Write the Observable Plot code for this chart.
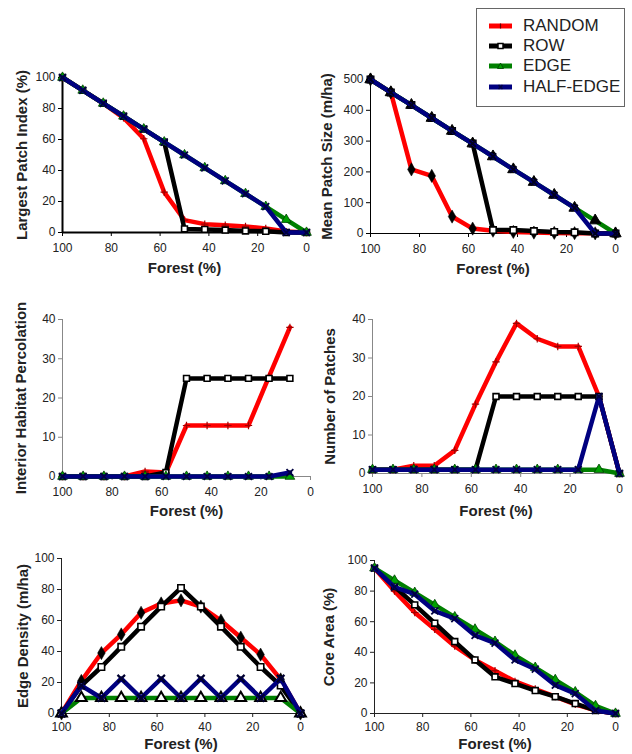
<!DOCTYPE html>
<html>
<head>
<meta charset="utf-8">
<script src="https://cdn.jsdelivr.net/npm/d3@7"></script>
<script src="https://cdn.jsdelivr.net/npm/@observablehq/plot@0.6"></script>
<style>
  html, body { margin: 0; padding: 0; background: white; }
  body { width: 632px; height: 754px; position: relative; overflow: hidden; font-family: "Liberation Sans", Arial, sans-serif; }
  .panel { position: absolute; }
  #legend { position: absolute; left: 476px; top: 8px; width: 147px; height: 97px; border: 1px solid #666; background: white; z-index: 10; }
  .lg-row { position: absolute; left: 0; height: 20px; width: 147px; }
  .lg-row svg { position: absolute; left: 12px; top: 5px; }
  .lg-row span { position: absolute; left: 46px; top: 0px; font-size: 17px; color: #222; line-height: 20px; }
</style>
</head>
<body>
<div id="legend"></div>
<script>
// ---- data ----
const forest = [100, 91.7, 83.3, 75, 66.7, 58.3, 50, 41.7, 33.3, 25, 16.7, 8.3, 0];
const seriesNames = ["RANDOM", "ROW", "EDGE", "HALF-EDGE"];
const seriesColors = ["#ff0000", "#000000", "#008000", "#000080"];
const xTicks = [100, 80, 60, 40, 20, 0];

// Largest Patch Index (%)
const lpiRandom = [100, 91.7, 83.3, 74, 60.5, 26, 8, 5.4, 4.7, 3.9, 2.6, 0.6, 0];
const lpiRow    = [100, 91.7, 83.3, 75, 66.7, 58.3, 2.3, 2, 1.6, 1, 0.8, 0, 0];
const lpiEdge   = [100, 91.7, 83.3, 75, 66.7, 58.3, 50, 41.7, 33.3, 25, 16.7, 8.3, 0];
const lpiHalf   = [100, 91.7, 83.3, 75, 66.7, 58.3, 50, 41.7, 33.3, 25, 16.7, 0, 0];

// Mean Patch Size (m/ha)
const mpsRandom = [500, 458, 208, 187, 55, 16, 9, 5, 3, 2, 1, 0.5, 0];
const mpsRow    = [500, 458, 417, 375, 333, 292, 11, 11, 8, 5, 4, 0, 0];
const mpsEdge   = [500, 458, 417, 375, 333, 292, 250, 208, 167, 125, 83, 42, 0];
const mpsHalf   = [500, 458, 417, 375, 333, 292, 250, 208, 167, 125, 83, 0, 0];

// Interior Habitat Percolation (no value at 0 % forest)
const ihpRandom = [0, 0, 0, 0, 1.3, 1, 13, 13, 13, 13, 25.5, 38];
const ihpRow    = [0, 0, 0, 0, 0, 1, 25, 25, 25, 25, 25, 25];
const ihpEdge   = [0, 0, 0, 0, 0, 0, 0, 0, 0, 0, 0, 0];
const ihpHalf   = [0, 0, 0, 0, 0, 0, 0, 0, 0, 0, 0, 1];

// Number of Patches
const npRandom = [1, 1, 2, 2, 6, 18, 29, 39, 35, 33, 33, 20, 0];
const npRow    = [1, 1, 1, 1, 1, 1, 20, 20, 20, 20, 20, 20, 0];
const npEdge   = [1, 1, 1, 1, 1, 1, 1, 1, 1, 1, 1, 1, 0];
const npHalf   = [1, 1, 1, 1, 1, 1, 1, 1, 1, 1, 1, 20, 0];

// Edge Density (m/ha)
const edRandom = [0, 21, 39, 51, 65, 71, 73, 69, 60, 49, 38, 22, 0];
const edRow    = [0, 18, 30, 43, 56, 69, 81, 69, 56, 43, 30, 18, 0];
const edEdge   = [0, 10, 10, 10, 10, 10, 10, 10, 10, 10, 10, 10, 0];
const edHalf   = [0, 18, 10, 22.5, 10, 22.5, 10, 22.5, 10, 22.5, 10, 22.5, 0];

// Core Area (%)
const caRandom = [95, 80, 66, 55, 44, 35, 28, 21, 16, 11, 6, 2, 0];
const caRow    = [95, 83, 71, 59, 47, 35, 24, 19.6, 15, 11, 6.5, 2, 0];
const caEdge   = [95, 87, 79, 71, 63, 55, 47, 38, 30, 22, 14, 5, 0];
const caHalf   = [95, 82.6, 78, 67, 62, 51, 46, 35, 29, 18.5, 13, 2, 0];

// ---- marker styles ----
const markA = {
  "RANDOM":    {symbol: "plus", r: 2.5, stroke: "#a00000", strokeWidth: 1.2, fill: "none"},
  "ROW":       {symbol: "square", r: 3.3, fill: "white", stroke: "black", strokeWidth: 1.6},
  "EDGE":      {symbol: "triangle", r: 3.6, fill: "#00a000", stroke: "#004000", strokeWidth: 0.8},
  "HALF-EDGE": {symbol: "times", r: 3.2, stroke: "#000040", strokeWidth: 1.8, fill: "none"}
};
const markB = {
  "RANDOM":    {symbol: "diamond", r: 4, fill: "black", stroke: "black", strokeWidth: 0.5},
  "ROW":       {symbol: "square", r: 3.6, fill: "white", stroke: "black", strokeWidth: 1.6},
  "EDGE":      {symbol: "triangle", r: 4.2, fill: "black", stroke: "black", strokeWidth: 1},
  "HALF-EDGE": {symbol: "times", r: 3, stroke: "#000020", strokeWidth: 2, fill: "none"}
};
const markC = Object.assign({}, markB, {
  "EDGE":      {symbol: "triangle", r: 4, fill: "white", stroke: "black", strokeWidth: 2},
  "HALF-EDGE": {symbol: "times", r: 3.5, stroke: "#000030", strokeWidth: 2.2, fill: "none"}
});

const panels = [
  {left: 0, top: 30, width: 316, height: 250, m: [47, 10, 48, 62], yDomain: [0, 100], yTicks: [0, 20, 40, 60, 80, 100],
   yLabel: "Largest Patch Index (%)", yDx: -40, xDy: 36, tp: 7, axisColor: "#000", axisWidth: 2,
   series: [lpiRandom, lpiRow, lpiEdge, lpiHalf], marks: markA},
  {left: 316, top: 30, width: 316, height: 250, m: [49, 17, 47, 54], yDomain: [0, 500], yTicks: [0, 100, 200, 300, 400, 500],
   yLabel: "Mean Patch Size (m/ha)", yDx: -43, xDy: 36, tp: 7, axisColor: "#000", axisWidth: 1,
   series: [mpsRandom, mpsRow, mpsEdge, mpsHalf], marks: markB},
  {left: 0, top: 280, width: 316, height: 240, m: [39, 6, 44, 62], yDomain: [0, 40], yTicks: [0, 10, 20, 30, 40],
   yLabel: "Interior Habitat Percolation", yDx: -41, xDy: 34.5, tp: 7, axisColor: "#888", axisWidth: 1,
   series: [ihpRandom, ihpRow, ihpEdge, ihpHalf], marks: markA},
  {left: 316, top: 280, width: 316, height: 240, m: [39, 13, 47, 56], yDomain: [0, 40], yTicks: [0, 10, 20, 30, 40],
   yLabel: "Number of Patches", yDx: -42, xDy: 37.5, tp: 7, axisColor: "#888", axisWidth: 1,
   series: [npRandom, npRow, npEdge, npHalf], marks: markA},
  {left: 0, top: 520, width: 316, height: 234, m: [38, 16, 41, 61], yDomain: [0, 100], yTicks: [0, 20, 40, 60, 80, 100],
   yLabel: "Edge Density (m/ha)", yDx: -38, xDy: 31, tp: 5, axisColor: "#222", axisWidth: 1,
   series: [edRandom, edRow, edEdge, edHalf], marks: markC},
  {left: 316, top: 520, width: 316, height: 234, m: [40, 17, 41, 58], yDomain: [0, 100], yTicks: [0, 20, 40, 60, 80, 100],
   yLabel: "Core Area (%)", yDx: -45, xDy: 31, tp: 5, axisColor: "#222", axisWidth: 1,
   series: [caRandom, caRow, caEdge, caHalf], marks: markA}
];

function toRows(values) {
  return values.map((v, i) => ({x: forest[i], y: v}));
}

for (const p of panels) {
  const marks = [
    Plot.axisY({ticks: p.yTicks, tickSize: 4, tickPadding: 3, label: null, stroke: p.axisColor, fill: "#222", fontSize: 12}),
    Plot.axisX({ticks: xTicks, tickSize: 4, tickPadding: p.tp, label: null, stroke: p.axisColor, fill: "#222", fontSize: 12}),
    Plot.ruleX([100], {stroke: p.axisColor, strokeWidth: p.axisWidth}),
    Plot.ruleY([0], {stroke: p.axisColor, strokeWidth: p.axisWidth})
  ];
  p.series.forEach((vals, i) => {
    const name = seriesNames[i];
    const rows = toRows(vals);
    marks.push(Plot.line(rows, {x: "x", y: "y", stroke: seriesColors[i], strokeWidth: 4.5, strokeLinejoin: "round", strokeLinecap: "round"}));
    marks.push(Plot.dot(rows, Object.assign({x: "x", y: "y"}, p.marks[name])));
  });
  marks.push(Plot.text(["Forest (%)"], {text: d => d, frameAnchor: "bottom", dy: p.xDy, textAnchor: "middle", fontWeight: "bold", fontSize: 15, lineAnchor: "middle", fill: "#222"}));
  marks.push(Plot.text([p.yLabel], {text: d => d, frameAnchor: "left", dx: p.yDx, rotate: -90, textAnchor: "middle", fontWeight: "bold", fontSize: 15, lineAnchor: "middle", fill: "#222"}));

  const chart = Plot.plot({
    width: p.width,
    height: p.height,
    marginTop: p.m[0], marginRight: p.m[1], marginBottom: p.m[2], marginLeft: p.m[3],
    style: {background: "transparent", fontFamily: "'Liberation Sans', Arial, sans-serif", fontSize: "12px", overflow: "visible"},
    x: {domain: [100, 0]},
    y: {domain: p.yDomain},
    marks
  });
  const wrap = document.createElement("div");
  wrap.className = "panel";
  wrap.style.left = p.left + "px";
  wrap.style.top = p.top + "px";
  wrap.appendChild(chart);
  document.body.appendChild(wrap);
}

// ---- legend ----
const legend = document.getElementById("legend");
const legendMarks = {
  "RANDOM": '<line x1="11.5" y1="2.5" x2="11.5" y2="7.5" stroke="#600" stroke-width="1.2"/>',
  "ROW": '<rect x="9" y="2.5" width="5" height="5" fill="white" stroke="black" stroke-width="1.5"/>',
  "EDGE": '<path d="M11.5,2 L14.5,7.5 L8.5,7.5 Z" fill="#00a000" stroke="#004000" stroke-width="0.8"/>',
  "HALF-EDGE": '<path d="M9.5,3 L13.5,7 M13.5,3 L9.5,7" stroke="#000040" stroke-width="1.5"/>'
};
const legendTops = [7, 27, 47, 68];
seriesNames.forEach((name, i) => {
  const row = document.createElement("div");
  row.className = "lg-row";
  row.style.top = legendTops[i] + "px";
  row.innerHTML = `<svg width="24" height="10"><line x1="0" y1="5" x2="23" y2="5" stroke="${seriesColors[i]}" stroke-width="5"/>${legendMarks[name]}</svg><span>${name}</span>`;
  legend.appendChild(row);
});
</script>
</body>
</html>
